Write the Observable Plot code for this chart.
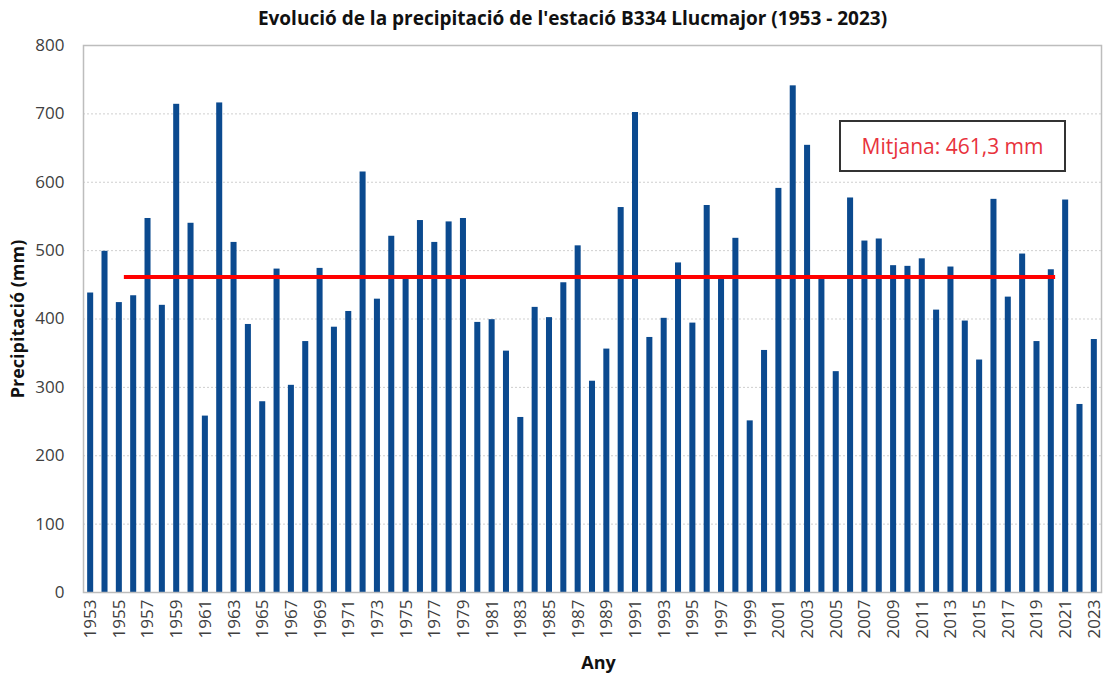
<!DOCTYPE html>
<html>
<head>
<meta charset="utf-8">
<script src="https://cdn.jsdelivr.net/npm/d3@7"></script>
<script src="https://cdn.jsdelivr.net/npm/@observablehq/plot@0.6"></script>
<style>
  html, body { margin: 0; padding: 0; background: #fff; }
  #wrap { position: relative; width: 1115px; height: 675px; font-family: "Open Sans", "Noto Sans", sans-serif; }
  #legend {
    position: absolute; left: 839px; top: 120px; width: 223px; height: 48px;
    border: 2px solid #333; background: #fff; color: #e8323c;
    font-size: 21px; display: flex; align-items: center; justify-content: center;
  }
</style>
</head>
<body>
<div id="wrap"><div id="legend"></div></div>
<script>
const title = "Evolució de la precipitació de l'estació B334 Llucmajor (1953 - 2023)";
const yLabel = "Precipitació (mm)";
const xLabel = "Any";
const legendText = "Mitjana: 461,3 mm";

const years = [1953,1954,1955,1956,1957,1958,1959,1960,1961,1962,1963,1964,1965,1966,1967,1968,1969,1970,
  1971,1972,1973,1974,1975,1976,1977,1978,1979,1980,1981,1982,1983,1984,1985,1986,1987,1988,1989,1990,
  1991,1992,1993,1994,1995,1996,1997,1998,1999,2000,2001,2002,2003,2004,2005,2006,2007,2008,2009,2010,
  2011,2012,2013,2014,2015,2016,2017,2018,2019,2020,2021,2022,2023];
const precip = [438,499,424,434,547,420,714,540,258,716,512,392,279,473,303,367,474,388,
  411,615,429,521,460,544,512,542,547,395,399,353,256,417,402,453,507,309,356,563,
  702,373,401,482,394,566,460,518,251,354,591,741,654,458,323,577,514,517,478,477,
  488,413,476,397,340,575,432,495,367,472,574,275,370];
const xTicks = years.filter((y, i) => i % 2 === 0);
const yTicks = [0,100,200,300,400,500,600,700,800];
const meanValue = 461.3;
const meanStart = 1955.35;
const meanEnd = 2020.3;

const data = years.map((year, i) => ({year, value: precip[i]}));
const font = "'Open Sans', 'Noto Sans', sans-serif";

const chart = Plot.plot({
  width: 1115,
  height: 675,
  marginLeft: 83,
  marginRight: 14,
  marginTop: 45,
  marginBottom: 83,
  style: {fontFamily: font, background: "#fff", overflow: "visible"},
  x: {domain: [1952.5, 2023.5], axis: null},
  y: {domain: [0, 800], axis: null},
  marks: [
    Plot.gridY(yTicks, {stroke: "#cfcfcf", strokeOpacity: 1, strokeDasharray: "2,2"}),
    Plot.rectY(data, {x1: d => d.year - 0.21, x2: d => d.year + 0.21, y: "value", fill: "#0b4a8f"}),
    Plot.ruleY([meanValue], {x1: meanStart, x2: meanEnd, stroke: "#ff0000", strokeWidth: 4}),
    Plot.frame({stroke: "#bdbdbd", strokeWidth: 1.5}),
    Plot.axisY({ticks: yTicks, tickSize: 0, tickPadding: 19, fontSize: 17, fill: "#404040", label: null}),
    Plot.axisX({ticks: xTicks, tickSize: 0, tickPadding: 7, tickRotate: -90, tickFormat: d => String(d), fontSize: 17, fill: "#404040", label: null}),
    Plot.text([title], {text: d => d, frameAnchor: "top", lineAnchor: "middle", dy: -27, dx: -20, fontSize: 19, fontWeight: "bold", fill: "#111"}),
    Plot.text([yLabel], {text: d => d, frameAnchor: "left", textAnchor: "middle", lineAnchor: "middle", dx: -65, rotate: -90, fontSize: 18, fontWeight: "bold", fill: "#111"}),
    Plot.text([xLabel], {text: d => d, frameAnchor: "bottom", lineAnchor: "middle", dy: 71, dx: 6, fontSize: 18, fontWeight: "bold", fill: "#111"})
  ]
});
const wrap = document.getElementById("wrap");
wrap.insertBefore(chart, wrap.firstChild);
document.getElementById("legend").textContent = legendText;
</script>
</body>
</html>
